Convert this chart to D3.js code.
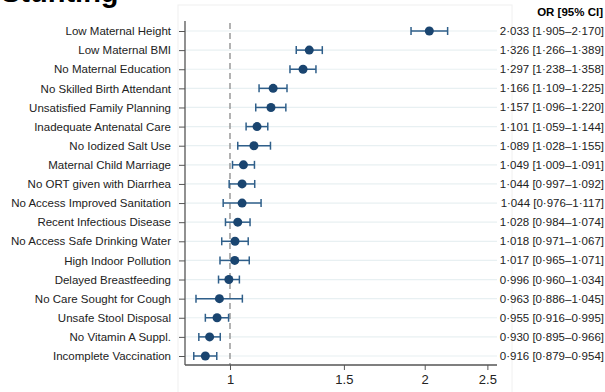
<!DOCTYPE html>
<html>
<head>
<meta charset="utf-8">
<script src="https://cdn.jsdelivr.net/npm/d3@7"></script>
<style>
  body { margin: 0; background: #fff; }
  svg { display: block; font-family: "Liberation Sans", Arial, sans-serif; }
</style>
</head>
<body>
<script>
// risk factors, top to bottom
const factors = [
  "Low Maternal Height", "Low Maternal BMI", "No Maternal Education",
  "No Skilled Birth Attendant", "Unsatisfied Family Planning", "Inadequate Antenatal Care",
  "No Iodized Salt Use", "Maternal Child Marriage", "No ORT given with Diarrhea",
  "No Access Improved Sanitation", "Recent Infectious Disease", "No Access Safe Drinking Water",
  "High Indoor Pollution", "Delayed Breastfeeding", "No Care Sought for Cough",
  "Unsafe Stool Disposal", "No Vitamin A Suppl.", "Incomplete Vaccination"
]
const oddsRatio = [2.033, 1.326, 1.297, 1.166, 1.157, 1.101, 1.089, 1.049, 1.044,
  1.044, 1.028, 1.018, 1.017, 0.996, 0.963, 0.955, 0.930, 0.916]
const ciLow = [1.905, 1.266, 1.238, 1.109, 1.096, 1.059, 1.028, 1.009, 0.997,
  0.976, 0.984, 0.971, 0.965, 0.960, 0.886, 0.916, 0.895, 0.879]
const ciHigh = [2.170, 1.389, 1.358, 1.225, 1.220, 1.144, 1.155, 1.091, 1.092,
  1.117, 1.074, 1.067, 1.071, 1.034, 1.045, 0.995, 0.966, 0.954]
const xTicks = [1, 1.5, 2, 2.5]

const W = 605, H = 392
const plotL = 185, plotR = 497, plotT = 21, plotB = 365

const fmt = v => d3.format(".3f")(v).replace(".", "\u00b7")

const svg = d3.select("body").append("svg").attr("width", W).attr("height", H)

// faint outer frame of the plot region
svg.append("rect").attr("x", 178).attr("y", 5).attr("width", 334).attr("height", 400)
  .attr("fill", "none").attr("stroke", "#f0f0f0")

svg.append("text").attr("x", 1).attr("y", 2)
  .attr("font-size", 29).attr("font-weight", "bold").text("Stunting")

const x = d3.scaleLog().domain([0.852, 2.587]).range([plotL, plotR])
const y = d3.scalePoint().domain(factors).range([31, 356])

const rows = factors.map((f, i) => ({ f, or: oddsRatio[i], lo: ciLow[i], hi: ciHigh[i] }))

// grid lines
svg.append("g").selectAll("line").data(factors).join("line")
  .attr("x1", plotL).attr("x2", plotR)
  .attr("y1", d => y(d)).attr("y2", d => y(d))
  .attr("stroke", "#e8f0f2").attr("stroke-width", 1.2)

// reference line at OR = 1
svg.append("line").attr("x1", x(1)).attr("x2", x(1)).attr("y1", 23).attr("y2", plotB)
  .attr("stroke", "#999").attr("stroke-width", 1.5).attr("stroke-dasharray", "6,4")

// y axis
const yAxis = svg.append("g").attr("transform", `translate(${plotL},0)`)
  .call(d3.axisLeft(y).tickSize(6).tickPadding(8))
yAxis.select(".domain").attr("d", `M0,${plotT}V${plotB}`).attr("stroke", "#555").attr("stroke-width", 1.3)
yAxis.selectAll(".tick line").attr("stroke", "#555")
yAxis.selectAll("text").attr("font-size", 11.5).attr("fill", "#222")
  .attr("font-family", "Liberation Sans, Arial, sans-serif")

// x axis
const xAxis = svg.append("g").attr("transform", `translate(0,${plotB})`)
  .call(d3.axisBottom(x).tickValues(xTicks).tickFormat(d3.format("")).tickSize(5).tickPadding(5))
xAxis.select(".domain").attr("d", `M${plotL},0H${plotR}`).attr("stroke", "#555").attr("stroke-width", 1.3)
xAxis.selectAll(".tick line").attr("stroke", "#555")
xAxis.selectAll("text").attr("font-size", 13).attr("fill", "#222")
  .attr("font-family", "Liberation Sans, Arial, sans-serif")

// error bars
const eb = svg.append("g").attr("stroke", "#2f5f8a").attr("stroke-width", 1.5)
eb.selectAll(".ci").data(rows).join("line").attr("class", "ci")
  .attr("x1", d => x(d.lo)).attr("x2", d => x(d.hi))
  .attr("y1", d => y(d.f)).attr("y2", d => y(d.f))
eb.selectAll(".capl").data(rows).join("line").attr("class", "capl")
  .attr("x1", d => x(d.lo)).attr("x2", d => x(d.lo))
  .attr("y1", d => y(d.f) - 4).attr("y2", d => y(d.f) + 4)
eb.selectAll(".caph").data(rows).join("line").attr("class", "caph")
  .attr("x1", d => x(d.hi)).attr("x2", d => x(d.hi))
  .attr("y1", d => y(d.f) - 4).attr("y2", d => y(d.f) + 4)

// point estimates
svg.append("g").selectAll("circle").data(rows).join("circle")
  .attr("cx", d => x(d.or)).attr("cy", d => y(d.f)).attr("r", 4.5)
  .attr("fill", "#1a4570")

// right-hand column
svg.append("text").attr("x", 603).attr("y", 16).attr("text-anchor", "end")
  .attr("font-size", 11.5).attr("font-weight", "bold").text("OR [95% CI]")
svg.append("g").selectAll("text").data(rows).join("text")
  .attr("x", 604).attr("y", d => y(d.f)).attr("dy", "0.35em").attr("text-anchor", "end")
  .attr("font-size", 11.5).attr("fill", "#222")
  .text(d => `${fmt(d.or)} [${fmt(d.lo)}\u2013${fmt(d.hi)}]`)
</script>
</body>
</html>
